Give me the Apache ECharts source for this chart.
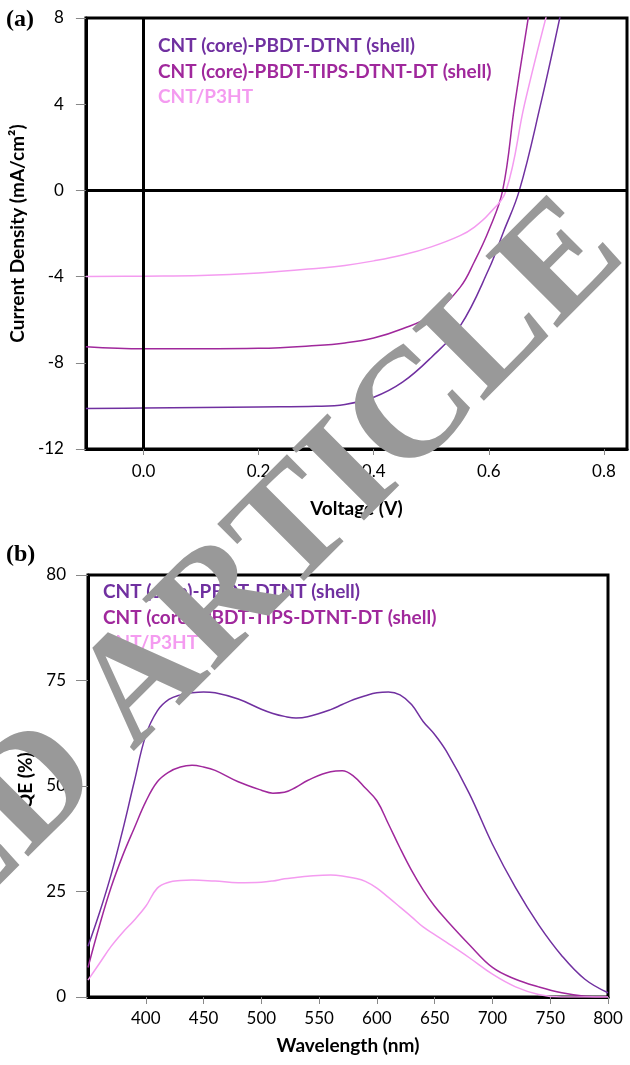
<!DOCTYPE html>
<html>
<head>
<meta charset="utf-8">
<script src="https://cdn.jsdelivr.net/npm/echarts@6/dist/echarts.min.js"></script>
<style>
html, body { margin: 0; padding: 0; background: #fff; }
#main { width: 630px; height: 1065px; }
</style>
</head>
<body>
<div id="main"></div>
<script>
var seriesNames = ['CNT (core)-PBDT-DTNT (shell)', 'CNT (core)-PBDT-TIPS-DTNT-DT (shell)', 'CNT/P3HT'];
var colors = ['#7030A0', '#A0289C', '#F49BF0'];

// (a) current density vs voltage
var voltDTNT = [-0.1, 0, 0.1, 0.2, 0.3, 0.35, 0.4, 0.45, 0.5, 0.55, 0.6, 0.625, 0.653, 0.69, 0.724];
var jDTNT    = [-10.12, -10.1, -10.08, -10.05, -10.02, -9.93, -9.6, -8.9, -7.75, -6.3, -3.65, -1.95, 0, 4, 8.1];
var voltTIPS = [-0.1, 0, 0.1, 0.2, 0.3, 0.35, 0.4, 0.45, 0.5, 0.55, 0.575, 0.6, 0.624, 0.645, 0.669];
var jTIPS    = [-7.25, -7.35, -7.35, -7.33, -7.2, -7.08, -6.85, -6.42, -5.8, -4.5, -3.3, -1.85, 0, 4, 8.1];
var voltP3HT = [-0.1, 0, 0.1, 0.2, 0.3, 0.35, 0.4, 0.45, 0.5, 0.55, 0.575, 0.6, 0.63, 0.662, 0.7];
var jP3HT    = [-4.0, -3.98, -3.95, -3.83, -3.62, -3.48, -3.27, -3.0, -2.62, -2.1, -1.7, -1.1, 0, 4, 8.1];
var voltTicks = [0, 0.2, 0.4, 0.6, 0.8];

// (b) EQE vs wavelength
var wavelength = [350, 360, 370, 380, 390, 400, 410, 420, 430, 440, 450, 460, 480, 500, 510, 520, 530, 540, 560, 570, 580, 590, 600, 610, 620, 630, 640, 650, 660, 680, 700, 720, 740, 760, 780, 800];
var eqeDTNT = [12, 20, 29, 39.5, 51, 62, 67.8, 70.5, 71.6, 72.1, 72.3, 72.1, 70.6, 68.2, 67.2, 66.5, 66.1, 66.4, 68.1, 69.3, 70.5, 71.4, 72.1, 72.3, 71.6, 69.3, 65.3, 62.2, 58.3, 48.2, 36.2, 25.9, 17.1, 9.8, 4.2, 1];
var eqeTIPS = [7, 17, 26, 33.5, 40, 46.3, 51, 53.3, 54.5, 54.9, 54.5, 53.7, 51, 49, 48.3, 48.5, 49.7, 51.3, 53.4, 53.6, 52.3, 49.5, 46.5, 41, 35.3, 30, 25.4, 21.5, 18.3, 12.4, 7, 4.2, 2.4, 1.0, 0.2, 0];
var eqeP3HT = [4, 8, 12, 15.3, 18.2, 21.5, 25.8, 27.2, 27.6, 27.7, 27.6, 27.5, 27.1, 27.2, 27.5, 28, 28.3, 28.6, 28.9, 28.7, 28.2, 27.4, 25.8, 23.6, 21.3, 19, 16.6, 14.8, 13, 9.3, 5.4, 2.4, 0.6, 0, 0, 0];
var eqeTickLabels = ['0', '25', '50', '75', '80'];

function pairs(xs, ys) {
    return xs.map(function (x, i) { return [x, ys[i]]; });
}

var font = 'Lato';
var myChart = echarts.init(document.getElementById('main'));

function lineSeries(idx, name, data, color) {
    return {
        name: name,
        type: 'line',
        xAxisIndex: idx,
        yAxisIndex: idx,
        data: data,
        smooth: 0.4,
        showSymbol: false,
        lineStyle: { color: color, width: 1.5 },
        itemStyle: { color: color }
    };
}

function legendData() {
    return seriesNames.map(function (n, i) {
        return { name: n, icon: 'none', textStyle: { color: colors[i] } };
    });
}

var axisText = { color: '#000', fontFamily: font, fontSize: 17 };
var nameText = { color: '#000', fontFamily: font, fontSize: 19, fontWeight: 'bold' };
var blackLine = { show: true, onZero: false, lineStyle: { color: '#000', width: 3 } };

var jvSeries = [
    lineSeries(0, seriesNames[0], pairs(voltDTNT, jDTNT), colors[0]),
    lineSeries(0, seriesNames[1], pairs(voltTIPS, jTIPS), colors[1]),
    lineSeries(0, seriesNames[2], pairs(voltP3HT, jP3HT), colors[2])
];
// zero lines of the J-V plot
jvSeries[0].markLine = {
    silent: true,
    symbol: ['none', 'none'],
    label: { show: false },
    lineStyle: { color: '#000', width: 3, type: 'solid' },
    data: [{ xAxis: 0 }, { yAxis: 0 }]
};

var option = {
    animation: false,
    title: [
        { text: '(a)', left: 6, top: 8, padding: 0,
          textStyle: { fontFamily: 'Liberation Serif', fontWeight: 'bold', fontSize: 24, color: '#000' } },
        { text: '(b)', left: 6, top: 543, padding: 0,
          textStyle: { fontFamily: 'Liberation Serif', fontWeight: 'bold', fontSize: 24, color: '#000' } }
    ],
    legend: [
        { orient: 'vertical', left: 148, top: 31, itemWidth: 0, itemHeight: 0, itemGap: 5.5,
          selectedMode: false, data: legendData(),
          textStyle: { fontFamily: font, fontSize: 19, fontWeight: 'bold', lineHeight: 20 } },
        { orient: 'vertical', left: 93, top: 577, itemWidth: 0, itemHeight: 0, itemGap: 5.5,
          selectedMode: false, data: legendData(),
          textStyle: { fontFamily: font, fontSize: 19, fontWeight: 'bold', lineHeight: 20 } }
    ],
    grid: [
        { left: 83, right: 3, top: 18, height: 431, show: true, borderColor: '#000', borderWidth: 3 },
        { left: 88, right: 22, top: 575, height: 422, show: true, borderColor: '#000', borderWidth: 3 }
    ],
    xAxis: [
        {
            type: 'value', gridIndex: 0, min: -0.1, max: 0.84,
            axisLine: blackLine,
            axisTick: { show: true, customValues: voltTicks, length: 6, lineStyle: { color: '#888', width: 1 } },
            axisLabel: Object.assign({ customValues: voltTicks, margin: 14,
                formatter: function (v) { return v.toFixed(1); } }, axisText),
            splitLine: { show: false },
            name: 'Voltage (V)', nameLocation: 'middle', nameGap: 50, nameTextStyle: nameText
        },
        {
            type: 'value', gridIndex: 1, min: 350, max: 800, interval: 50,
            axisLine: blackLine,
            axisTick: { show: true, length: 7, lineStyle: { color: '#888', width: 1 } },
            axisLabel: Object.assign({ showMinLabel: false, margin: 13 }, axisText),
            splitLine: { show: false },
            name: 'Wavelength (nm)', nameLocation: 'middle', nameGap: 39, nameTextStyle: nameText
        }
    ],
    yAxis: [
        {
            type: 'value', gridIndex: 0, min: -12, max: 8, interval: 4,
            axisLine: blackLine,
            axisTick: { show: true, length: 10, lineStyle: { color: '#888', width: 1 } },
            axisLabel: Object.assign({ margin: 22 }, axisText),
            splitLine: { show: false },
            name: 'Current Density (mA/cm²)', nameLocation: 'middle', nameGap: 52, nameTextStyle: nameText
        },
        {
            type: 'value', gridIndex: 1, min: 0, max: 100, interval: 25,
            axisLine: blackLine,
            axisTick: { show: true, length: 12, lineStyle: { color: '#888', width: 1 } },
            axisLabel: Object.assign({ margin: 22,
                formatter: function (v) { return eqeTickLabels[Math.round(v / 25)]; } }, axisText),
            splitLine: { show: false },
            name: 'EQE (%)', nameLocation: 'middle', nameGap: 52, nameTextStyle: nameText
        }
    ],
    series: jvSeries.concat([
        lineSeries(1, seriesNames[0], pairs(wavelength, eqeDTNT), colors[0]),
        lineSeries(1, seriesNames[1], pairs(wavelength, eqeTIPS), colors[1]),
        lineSeries(1, seriesNames[2], pairs(wavelength, eqeP3HT), colors[2])
    ]),
    graphic: [
        {
            // watermark over both panels
            type: 'text', x: 600, y: 228, rotation: Math.PI / 4, z: 100, silent: true,
            style: {
                text: 'RETRACTED ARTICLE',
                font: 'bold 155px "Liberation Serif"',
                fill: '#999999',
                textAlign: 'right', align: 'right',
                textVerticalAlign: 'middle', verticalAlign: 'middle'
            }
        }
    ]
};

if (option && typeof option === 'object') {
    myChart.setOption(option);
}
</script>
</body>
</html>
